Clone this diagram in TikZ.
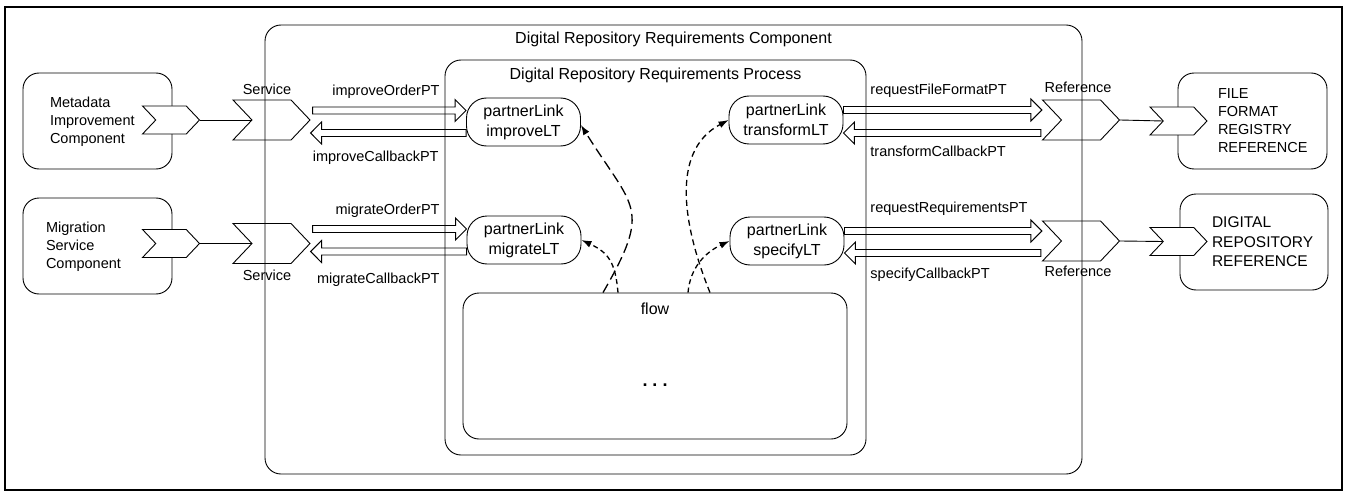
\documentclass[tikz,border=0pt]{standalone}
\usepackage{fontspec}
\setmainfont{Liberation Sans}
\usepackage{tikz}
\usetikzlibrary{positioning}
\usetikzlibrary{calc}
\usetikzlibrary{shapes.symbols}
\usetikzlibrary{arrows.meta}
\newcommand{\lblfnt}{\fontsize{14.5}{18}\selectfont}
\newcommand{\boxfnt}{\fontsize{16}{20}\selectfont}

\begin{document}
\begin{tikzpicture}[x=1pt, y=-1pt, line width=0.9pt,
  every node/.style = {inner sep=0pt},
  box/.style = {shape=rectangle, draw, rounded corners=16pt},
  plink/.style = {shape=rectangle, draw, rounded corners=20pt, minimum width=114pt, minimum height=48pt, align=center, font=\boxfnt},
  chev/.style = {shape=signal, draw, signal from=west, signal to=east, signal pointer angle=93, minimum width=77pt, minimum height=40pt},
  smallchev/.style = {chev, fill=white, minimum width=57pt, minimum height=28pt},
  lbl/.style = {font=\lblfnt},
  txt/.style = {align=left, font=\lblfnt},
  fat/.style = {to path={let \p1=(\tikztostart), \p2=(\tikztotarget), \p3=($(\tikztotarget)!11pt!(\tikztostart)$) in
    (\x1,\y1+3.5pt) -- (\x3,\y1+3.5pt) -- (\x3,\y1+11pt) -- (\x2,\y1) -- (\x3,\y1-11pt) -- (\x3,\y1-3.5pt) -- (\x1,\y1-3.5pt) -- cycle}},
  ctrl/.style = {line width=1.3pt, -{Latex[length=10pt,width=7pt]}}
]
  \useasboundingbox (0,0) rectangle (1346,492);
  \draw[line width=1.5pt] (5,7) rectangle (1342,490);

  \node[box, minimum width=817pt, minimum height=449pt] (comp) at (673.5,249.5) {};
  \node[anchor=base, font=\boxfnt] (compTitle) at ([yshift=-19pt]comp.north) {Digital Repository Requirements Component};
  \node[box, minimum width=421pt, minimum height=395pt] (proc) at (655.5,257.5) {};
  \node[anchor=base, font=\boxfnt] (procTitle) at ([yshift=-20pt]proc.north) {Digital Repository Requirements Process};
  \node[box, minimum width=384pt, minimum height=146pt] (flow) at (655,366) {};
  \node[anchor=base, font=\boxfnt] (flowTitle) at ([yshift=-22pt]flow.north) {flow};
  \node[anchor=base, font=\bfseries\fontsize{18}{20}\selectfont] (dots) at ([yshift=-94pt]flow.north) {.\hspace{5pt}.\hspace{5pt}.};

  \node[box, minimum width=149pt, minimum height=96pt] (meta) at (97.5,121) {};
  \node[txt, right=27pt of meta.west, yshift=-1pt] (metaTxt) {Metadata\\Improvement\\Component};
  \node[box, minimum width=149pt, minimum height=96pt] (migr) at (97.5,246) {};
  \node[txt, right=23pt of migr.west, yshift=-1pt] (migrTxt) {Migration\\Service\\Component};
  \node[box, minimum width=149pt, minimum height=96pt] (fileReg) at (1252.5,121) {};
  \node[txt, right=40pt of fileReg.west] (fileTxt) {FILE\\FORMAT\\REGISTRY\\REFERENCE};
  \node[box, minimum width=148pt, minimum height=96pt] (repo) at (1254,242) {};
  \node[txt, right=32pt of repo.west, font=\fontsize{15.5}{19.5}\selectfont] (repoTxt) {DIGITAL\\REPOSITORY\\REFERENCE};

  \node[smallchev] (metaOut) at (171,120) {};
  \node[smallchev] (migrOut) at (171,243.5) {};
  \node[smallchev] (fileIn) at (1178.5,121) {};
  \node[smallchev] (repoIn) at (1178.5,241.5) {};
  \node[chev] (svc1) at (271.5,120) {};
  \node[chev] (svc2) at (271.5,243.5) {};
  \node[chev] (ref1) at (1081,120) {};
  \node[chev] (ref2) at (1081,241) {};
  \node[lbl, above=4.5pt of svc1, xshift=-4.5pt] (svc1Lbl) {Service};
  \node[lbl, below=5.5pt of svc2, xshift=-4.5pt] (svc2Lbl) {Service};
  \node[lbl, above=6pt of ref1, xshift=-3pt] (ref1Lbl) {Reference};
  \node[lbl, below=4.6pt of ref2, xshift=-3pt] (ref2Lbl) {Reference};

  \node[plink] (plImprove) at (523.5,122) {partnerLink\\improveLT};
  \node[plink] (plMigrate) at (524,240) {partnerLink\\migrateLT};
  \node[plink] (plTransform) at (786,120) {partnerLink\\transformLT};
  \node[plink] (plSpecify) at (787,241) {partnerLink\\specifyLT};

  \node[lbl, anchor=base east] (lImpOrder) at (440,96) {improveOrderPT};
  \node[lbl, anchor=base east] (lImpCb) at (439,161) {improveCallbackPT};
  \node[lbl, anchor=base east] (lMigOrder) at (440,214) {migrateOrderPT};
  \node[lbl, anchor=base east] (lMigCb) at (440,283) {migrateCallbackPT};
  \node[lbl, anchor=base west] (lReqFile) at (870,95) {requestFileFormatPT};
  \node[lbl, anchor=base west] (lTrCb) at (870,157) {transformCallbackPT};
  \node[lbl, anchor=base west] (lReqReq) at (870,212) {requestRequirementsPT};
  \node[lbl, anchor=base west] (lSpCb) at (870,278) {specifyCallbackPT};

  \draw (metaOut.east) -- (svc1.west);
  \draw (migrOut.east) -- (svc2.west);
  \draw (ref1.east) -- (fileIn.west);
  \draw (ref2.east) -- (repoIn.west);

  \draw[fat] ($(svc1.east |- plImprove.west)+(2,-11.5)$) to (plImprove.west);
  \draw[fat] ($(plImprove.west)+(0,11)$) to (svc1.east);
  \draw[fat] ($(svc2.east |- plMigrate.west)+(2,-11)$) to (plMigrate.west);
  \draw[fat] ($(plMigrate.west)+(0,11.5)$) to (svc2.east);
  \draw[fat] ($(plTransform.east)+(0,-10)$) to ([xshift=-19pt]ref1.west);
  \draw[fat] ($(ref1.west |- plTransform.east)+(-20,13)$) to (plTransform.east);
  \draw[fat] ($(plSpecify.east)+(0,-10)$) to ([xshift=-19pt]ref2.west);
  \draw[fat] ($(ref2.west |- plSpecify.east)+(-20,12)$) to (plSpecify.east);

  \draw[ctrl, dash pattern=on 10pt off 5pt] ([xshift=-52pt]flow.north) to[out=60, in=-58, looseness=1.5] ([yshift=-3pt]plImprove.east);
  \draw[ctrl, dash pattern=on 5pt off 3.5pt] ([xshift=-37pt]flow.north) to[out=95, in=-25, looseness=1.2] (plMigrate.east);
  \draw[ctrl, dash pattern=on 5pt off 3.5pt] ([xshift=33pt]flow.north) to[out=85, in=205] (plSpecify.west);
  \draw[ctrl, dash pattern=on 6pt off 4pt] ([xshift=55pt]flow.north) to[out=112, in=208] (plTransform.west);
\end{tikzpicture}
\end{document}
